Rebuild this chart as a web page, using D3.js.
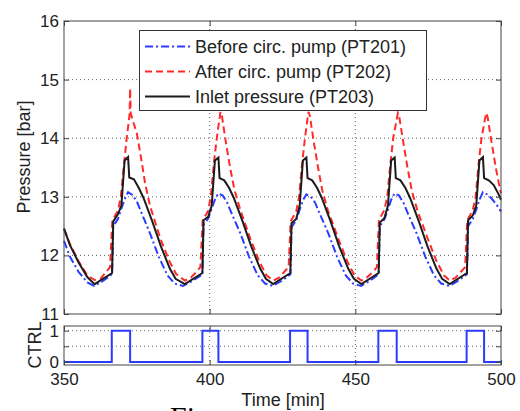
<!DOCTYPE html>
<html>
<head>
<meta charset="utf-8">
<script src="https://cdn.jsdelivr.net/npm/d3@7/dist/d3.min.js"></script>
<style>
  body { margin: 0; background: #fff; }
  svg { display: block; font-family: "Liberation Sans", Arial, sans-serif; }
  .tick text { font-size: 17px; fill: #222; }
</style>
</head>
<body>
<div id="chart"></div>
<script>
// PT201, before circulation pump
var beforeT = [350, 352, 355, 358, 360.3, 363, 365.5,
  366.5, 366.9, 368.5, 369.7, 370.8, 372.0, 373.5, 375.0, 376.5, 379.5, 382.5, 385.5, 388.0,
  390.8, 393.5, 396.5,
  397.5, 397.9, 399.5, 400.7, 401.8, 403.0, 404.5, 406.0, 407.5, 410.5, 413.5, 416.5, 419.0,
  421.6, 424.2, 426.7,
  427.7, 428.1, 429.7, 430.9, 432.0, 433.2, 434.7, 436.2, 437.7, 440.7, 443.7, 446.7, 449.2,
  451.9, 454.5, 457.0,
  458.0, 458.4, 460.0, 461.2, 462.3, 463.5, 465.0, 466.5, 468.0, 471.0, 474.0, 477.0, 479.5,
  482.2, 484.8, 487.3,
  488.3, 488.7, 490.3, 491.5, 492.6, 493.8, 495.3, 496.8, 498.3, 500];
var beforeP = [12.25, 11.98, 11.72, 11.54, 11.48, 11.55, 11.64,
  11.68, 12.50, 12.62, 12.80, 12.96, 13.08, 13.03, 12.92, 12.74, 12.38, 11.98, 11.66, 11.52,
  11.48, 11.55, 11.64,
  11.68, 12.52, 12.63, 12.80, 12.95, 13.06, 13.02, 12.90, 12.72, 12.38, 11.98, 11.66, 11.52,
  11.48, 11.55, 11.64,
  11.68, 12.48, 12.60, 12.78, 12.94, 13.04, 13.00, 12.90, 12.72, 12.38, 11.98, 11.66, 11.52,
  11.48, 11.55, 11.64,
  11.68, 12.50, 12.62, 12.78, 12.95, 13.06, 13.02, 12.90, 12.72, 12.38, 11.98, 11.66, 11.52,
  11.48, 11.55, 11.64,
  11.68, 12.50, 12.62, 12.78, 12.95, 13.08, 13.04, 12.97, 12.88, 12.75];

// PT202, after circulation pump
var afterT = [350, 352, 355, 358, 360.5, 362.5, 364.5, 365.8,
  366.6, 368.5, 369.5, 370.5, 371.6, 372.5, 372.7, 372.9, 375.0, 376.5, 377.8, 379.5, 383, 386, 388.5,
  391.5, 393.5, 395.5, 396.8,
  397.6, 399.5, 400.5, 401.5, 402.5, 403.7, 404.2, 405.5, 407, 408.5, 410.5, 414, 417, 419.5,
  421.8, 423.8, 425.8, 427.1,
  427.8, 429.7, 430.7, 431.7, 432.7, 433.9, 434.4, 435.7, 437.2, 438.7, 440.7, 444.2, 447.2, 449.7,
  452.1, 454.1, 456.1, 457.4,
  458.1, 460.0, 461.0, 462.0, 463.0, 464.6, 465.1, 466.4, 467.9, 469.4, 471.4, 474.9, 477.9, 480.4,
  482.4, 484.4, 486.4, 487.7,
  488.4, 490.3, 491.3, 492.3, 493.3, 494.9, 495.4, 496.7, 498.2, 499.7, 500];
var afterP = [12.45, 12.20, 11.90, 11.66, 11.58, 11.60, 11.72, 11.80,
  12.60, 12.76, 13.00, 13.51, 14.03, 14.40, 14.85, 14.42, 14.08, 13.65, 13.24, 12.85, 12.30, 11.92, 11.68,
  11.57, 11.62, 11.72, 11.80,
  12.60, 12.76, 13.05, 13.60, 14.02, 14.45, 14.38, 13.95, 13.50, 13.12, 12.78, 12.28, 11.90, 11.66,
  11.57, 11.62, 11.73, 11.80,
  12.58, 12.75, 13.00, 13.55, 14.00, 14.45, 14.38, 13.95, 13.50, 13.10, 12.75, 12.28, 11.90, 11.66,
  11.57, 11.63, 11.72, 11.80,
  12.60, 12.78, 13.02, 13.55, 14.00, 14.43, 14.36, 13.95, 13.50, 13.10, 12.75, 12.28, 11.90, 11.66,
  11.57, 11.62, 11.73, 11.80,
  12.60, 12.77, 13.00, 13.55, 14.00, 14.43, 14.36, 13.95, 13.50, 13.12, 13.06];

// PT203, inlet pressure
var inletT = [350, 352, 355, 358, 360.5,
  366.5, 366.9, 368.5, 369.7, 370.8, 372.0, 372.4, 374.0, 375.7, 377.3, 380.3, 383.3, 386.3, 388.3,
  391.5,
  397.5, 397.9, 399.5, 400.7, 401.8, 403.0, 403.4, 405.0, 406.7, 408.3, 411.3, 414.3, 417.3, 419.3,
  421.8,
  427.7, 428.1, 429.7, 430.9, 432.0, 433.2, 433.6, 435.2, 436.9, 438.5, 441.5, 444.5, 447.5, 449.5,
  452.1,
  458.0, 458.4, 460.0, 461.2, 462.3, 463.5, 463.9, 465.5, 467.2, 468.8, 471.8, 474.8, 477.8, 479.8,
  482.4,
  488.3, 488.7, 490.3, 491.5, 492.6, 493.8, 494.2, 495.8, 497.5, 499.1, 500];
var inletP = [12.46, 12.18, 11.88, 11.63, 11.51,
  11.70, 12.58, 12.70, 12.85, 13.62, 13.68, 13.33, 13.30, 13.15, 12.98, 12.58, 12.15, 11.78, 11.60,
  11.51,
  11.70, 12.60, 12.66, 12.85, 13.62, 13.67, 13.32, 13.28, 13.15, 12.98, 12.58, 12.15, 11.78, 11.60,
  11.51,
  11.70, 12.55, 12.62, 12.85, 13.62, 13.67, 13.32, 13.28, 13.15, 12.98, 12.58, 12.15, 11.78, 11.60,
  11.51,
  11.70, 12.56, 12.64, 12.85, 13.62, 13.67, 13.32, 13.28, 13.15, 12.98, 12.58, 12.15, 11.78, 11.60,
  11.51,
  11.70, 12.60, 12.68, 12.85, 13.62, 13.68, 13.32, 13.28, 13.20, 13.05, 12.95];

// circulation pump control pulses
var ctrlOn  = [366.4, 397.5, 427.6, 457.9, 488.2];
var ctrlOff = [372.7, 403.0, 433.6, 464.2, 494.2];

var xTicks = [350, 400, 450, 500];
var pTicks = [11, 12, 13, 14, 15, 16];
var ctrlTicks = [0, 0.5, 1];

var legendNames = ["Before circ. pump (PT201)", "After circ. pump (PT202)", "Inlet pressure (PT203)"];

var width = 520, height = 411;

var svg = d3.select("#chart").append("svg")
    .attr("width", width)
    .attr("height", height);

var x = d3.scaleLinear().domain([350, 500]).range([64, 501]);
var y = d3.scaleLinear().domain([11, 16]).range([314, 21]);
var yc = d3.scaleLinear().domain([-0.1, 1.15]).range([365, 326]);

function zip(t, v) { return t.map(function(d, i) { return [d, v[i]]; }); }

var series = [
  { data: zip(beforeT, beforeP), color: "#2b3cff", dash: "8,3,2,3" },
  { data: zip(afterT, afterP), color: "#ff2b2b", dash: "7,4" },
  { data: zip(inletT, inletP), color: "#1c1c1c", dash: null }
];

var gridColor = "#666";

// main panel grid
var main = svg.append("g");
main.selectAll(".hg").data([12, 13, 14, 15]).enter().append("line")
    .attr("x1", x(350)).attr("x2", x(500))
    .attr("y1", function(d) { return y(d); }).attr("y2", function(d) { return y(d); })
    .attr("stroke", gridColor).attr("stroke-dasharray", "1,3");
main.selectAll(".vg").data([400, 450]).enter().append("line")
    .attr("x1", function(d) { return x(d); }).attr("x2", function(d) { return x(d); })
    .attr("y1", y(11)).attr("y2", y(16))
    .attr("stroke", gridColor).attr("stroke-dasharray", "1,3");

var line = d3.line()
    .x(function(d) { return x(d[0]); })
    .y(function(d) { return y(d[1]); });

series.forEach(function(s) {
  main.append("path")
      .datum(s.data)
      .attr("d", line)
      .attr("fill", "none")
      .attr("stroke", s.color)
      .attr("stroke-width", 2)
      .attr("stroke-dasharray", s.dash);
});

// axes, MATLAB style with ticks inside
main.append("g").attr("transform", "translate(64,0)")
    .call(d3.axisLeft(y).tickValues(pTicks).tickSize(-5).tickPadding(5).tickFormat(d3.format("d")));
main.append("g").attr("transform", "translate(501,0)")
    .call(d3.axisRight(y).tickValues(pTicks).tickSize(-5).tickFormat(""));
main.append("g").attr("transform", "translate(0,314)")
    .call(d3.axisBottom(x).tickValues(xTicks).tickSize(-5).tickFormat(""));
main.append("g").attr("transform", "translate(0,21)")
    .call(d3.axisTop(x).tickValues(xTicks).tickSize(-5).tickFormat(""));
main.append("rect")
    .attr("x", 64).attr("y", 21).attr("width", 437).attr("height", 293)
    .attr("fill", "none").attr("stroke", "#444");

// legend
var leg = svg.append("g");
leg.append("rect")
    .attr("x", 139.5).attr("y", 30.5).attr("width", 287).attr("height", 80)
    .attr("fill", "#fff").attr("stroke", "#333");
legendNames.forEach(function(name, i) {
  var ly = 46.5 + i * 25;
  leg.append("line")
      .attr("x1", 145).attr("x2", 190).attr("y1", ly).attr("y2", ly)
      .attr("stroke", series[i].color).attr("stroke-width", 2)
      .attr("stroke-dasharray", series[i].dash);
  leg.append("text")
      .attr("x", 195).attr("y", ly + 6)
      .attr("font-size", 18).attr("fill", "#222")
      .text(name);
});

// CTRL panel
var ctrl = svg.append("g");
ctrl.selectAll(".hg").data([0.5, 1]).enter().append("line")
    .attr("x1", x(350)).attr("x2", x(500))
    .attr("y1", function(d) { return yc(d); }).attr("y2", function(d) { return yc(d); })
    .attr("stroke", gridColor).attr("stroke-dasharray", "1,3");
ctrl.selectAll(".vg").data([400, 450]).enter().append("line")
    .attr("x1", function(d) { return x(d); }).attr("x2", function(d) { return x(d); })
    .attr("y1", yc(-0.1)).attr("y2", yc(1.15))
    .attr("stroke", gridColor).attr("stroke-dasharray", "1,3");

var ctrlPts = [[350, 0]];
ctrlOn.forEach(function(t, i) {
  ctrlPts.push([t, 0], [t, 1], [ctrlOff[i], 1], [ctrlOff[i], 0]);
});
ctrlPts.push([500, 0]);

ctrl.append("path")
    .datum(ctrlPts)
    .attr("d", d3.line().x(function(d) { return x(d[0]); }).y(function(d) { return yc(d[1]); }))
    .attr("fill", "none").attr("stroke", "#2b3cff").attr("stroke-width", 2);

ctrl.append("g").attr("transform", "translate(64,0)")
    .call(d3.axisLeft(yc).tickValues(ctrlTicks).tickSize(-5).tickPadding(5)
      .tickFormat(function(d) { return d === 0.5 ? "" : d; }));
ctrl.append("g").attr("transform", "translate(501,0)")
    .call(d3.axisRight(yc).tickValues(ctrlTicks).tickSize(-5).tickFormat(""));
ctrl.append("g").attr("transform", "translate(0,365)")
    .call(d3.axisBottom(x).tickValues(xTicks).tickSize(-5).tickPadding(8).tickFormat(d3.format("d")));
ctrl.append("g").attr("transform", "translate(0,326)")
    .call(d3.axisTop(x).tickValues(xTicks).tickSize(-5).tickFormat(""));
ctrl.append("rect")
    .attr("x", 64).attr("y", 326).attr("width", 437).attr("height", 39)
    .attr("fill", "none").attr("stroke", "#444");

svg.selectAll(".domain").remove();
svg.selectAll(".tick line").attr("stroke", "#444");

// axis titles
svg.append("text")
    .attr("transform", "translate(30,157) rotate(-90)")
    .attr("text-anchor", "middle").attr("font-size", 18).attr("fill", "#222")
    .text("Pressure [bar]");
svg.append("text")
    .attr("transform", "translate(41,345) rotate(-90)")
    .attr("text-anchor", "middle").attr("font-size", 18).attr("fill", "#222")
    .text("CTRL");
svg.append("text")
    .attr("x", 283).attr("y", 406)
    .attr("text-anchor", "middle").attr("font-size", 18).attr("fill", "#222")
    .text("Time [min]");

// caption cut off at the bottom edge
svg.append("text")
    .attr("x", 170).attr("y", 427)
    .attr("font-family", "Liberation Serif, Times New Roman, serif")
    .attr("font-size", 30).attr("fill", "#000")
    .text("Figure");
</script>
</body>
</html>
